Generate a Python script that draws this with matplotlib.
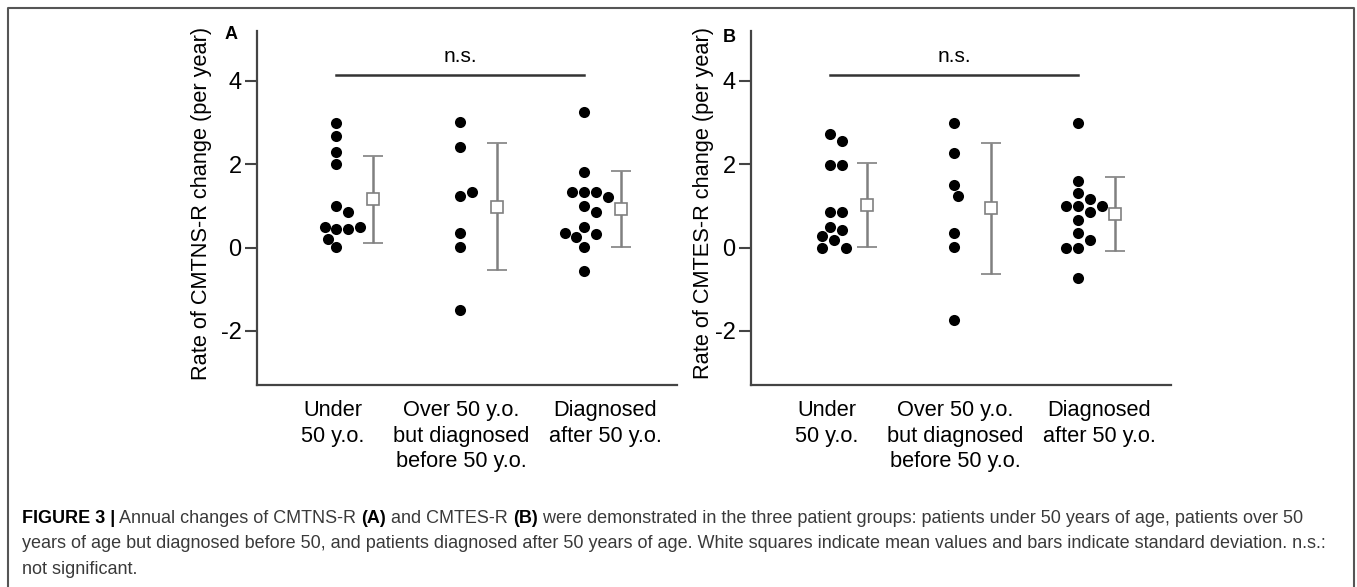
import matplotlib
matplotlib.use("Agg")
import matplotlib.pyplot as plt
from matplotlib.lines import Line2D
import numpy as np

plt.rcParams['font.family'] = ['Liberation Sans', 'DejaVu Sans']
plt.rcParams['axes.unicode_minus'] = False

# group labels
groups = ["Under\n50 y.o.", "Over 50 y.o.\nbut diagnosed\nbefore 50 y.o.", "Diagnosed\nafter 50 y.o."]

# panel A: CMTNS-R rate of change (per year)
a_under = [3.0, 2.68, 2.29, 2.0, 1.01, 0.86, 0.44, 0.44, 0.5, 0.5, 0.21, 0.01]
a_over = [3.01, 2.42, 1.25, 1.33, 0.34, 0.01, -1.5]
a_diag = [3.26, 1.82, 1.34, 1.34, 1.34, 1.21, 1.01, 0.86, 0.5, 0.33, 0.26, 0.35, 0.02, -0.56]
a_mean = [1.16, 0.98, 0.93]
a_sd = [1.05, 1.52, 0.92]

# panel B: CMTES-R rate of change (per year)
b_under = [2.73, 2.56, 1.98, 1.98, 0.85, 0.85, 0.49, 0.41, 0.27, 0.18, 0.0, 0.0]
b_over = [2.98, 2.26, 1.5, 1.24, 0.35, 0.01, -1.74]
b_diag = [2.98, 1.6, 1.32, 1.17, 1.01, 1.01, 1.01, 0.86, 0.66, 0.35, 0.18, 0.0, 0.0, -0.72]
b_mean = [1.03, 0.94, 0.81]
b_sd = [1.01, 1.57, 0.89]

W, H = 1357, 587
fig = plt.figure(figsize=(W / 100, H / 100), dpi=100)


def px(x, y):
    # pixel (from top-left) -> figure fraction
    return x / W, 1 - y / H


def swarm(ax, x0, vals, d):
    # simple beeswarm: shift points sideways until they no longer overlap
    pts = ax.transData.transform(np.column_stack([np.full(len(vals), x0), vals]))
    unit = ax.transData.transform([[x0 + 1, 0]])[0, 0] - ax.transData.transform([[x0, 0]])[0, 0]
    placed = []
    offs = np.zeros(len(vals))
    steps = [0.0]
    for k in range(1, 30):
        steps += [k * d * 0.34, -k * d * 0.34]
    for i, y in enumerate(pts[:, 1]):
        for c in steps:
            if all((c - p) ** 2 + (y - q) ** 2 >= (d * 0.97) ** 2 for p, q in placed):
                break
        placed.append((c, y))
        offs[i] = c
    return x0 + offs / unit


def panel(left, data, means, sds, ylabel, letter, lab_x, let_xy):
    ax = fig.add_axes([left / W, 202 / H, 420 / W, 354 / H])
    ax.set_xlim(0.36, 3.75)
    ax.set_ylim(-3.3, 5.2)
    for s in ["top", "right"]:
        ax.spines[s].set_visible(False)
    for s in ["left", "bottom"]:
        ax.spines[s].set_color("#444444")
        ax.spines[s].set_linewidth(1.6)
    ax.set_yticks([-2, 0, 2, 4])
    ax.tick_params(axis="y", length=9, width=1.5, color="#444444", labelsize=17, pad=2)
    # group labels sit a little off the dot columns in the original
    ax.set_xticks([0.97, 2.01, 3.17])
    ax.set_xticklabels(groups, fontsize=15.7, linespacing=1.28, va="top")
    ax.tick_params(axis="x", length=0, pad=11)
    for i, vals in enumerate(data):
        xs = swarm(ax, i + 1, vals, 11.5)
        ax.scatter(xs, vals, s=64, color="black", linewidths=0, zorder=3)
        ax.errorbar(i + 1.3, means[i], yerr=sds[i], fmt="s", ms=8, mfc="white", mec="#808080",
                    mew=1.2, ecolor="#808080", elinewidth=1.8, capsize=7.5, capthick=1.8, zorder=2)
    ax.plot([1, 3], [4.14, 4.14], color="#333333", lw=1.8)
    ax.text(2, 4.35, "n.s.", ha="center", va="bottom", fontsize=15)
    fig.text(*px(lab_x, 203), ylabel, rotation=90, ha="center", va="center", fontsize=15.7)
    fig.text(*px(*let_xy), letter, ha="center", va="baseline", fontsize=13, fontweight="bold")
    return ax


panel(257, [a_under, a_over, a_diag], a_mean, a_sd, "Rate of CMTNS-R change (per year)", "A", 202, (231.5, 39))
panel(751, [b_under, b_over, b_diag], b_mean, b_sd, "Rate of CMTES-R change (per year)", "B", 703, (729.5, 42))

# outer frame (open at the bottom)
frame = Line2D([8 / W, 8 / W, 1354 / W, 1354 / W], [-0.1, 1 - 8 / H, 1 - 8 / H, -0.1],
               transform=fig.transFigure, color="#555555", lw=1.5)
fig.add_artist(frame)

# caption: first line mixes bold and normal pieces
grey = "#3a3a3a"
cap_fs = 13.0
line1 = [("FIGURE 3 |", "bold", "black"), (" Annual changes of CMTNS-R ", "normal", grey), ("(A)", "bold", "black"),
         (" and CMTES-R ", "normal", grey), ("(B)", "bold", "black"),
         (" were demonstrated in the three patient groups: patients under 50 years of age, patients over 50", "normal", grey)]
line2 = ("years of age but diagnosed before 50, and patients diagnosed after 50 years of age. "
         "White squares indicate mean values and bars indicate standard deviation. n.s.:")
line3 = "not significant."

fig.canvas.draw()
r = fig.canvas.get_renderer()
x = 22 / W
for txt, wt, col in line1:
    t = fig.text(x, 1 - 523 / H, txt, fontsize=cap_fs, fontweight=wt, color=col, va="baseline", ha="left")
    x = t.get_window_extent(r).x1 / W

fig.text(*px(22, 548), line2, fontsize=cap_fs, color=grey, va="baseline")
fig.text(*px(22, 574), line3, fontsize=cap_fs, color=grey, va="baseline")

fig.savefig("out.png", dpi=100)
